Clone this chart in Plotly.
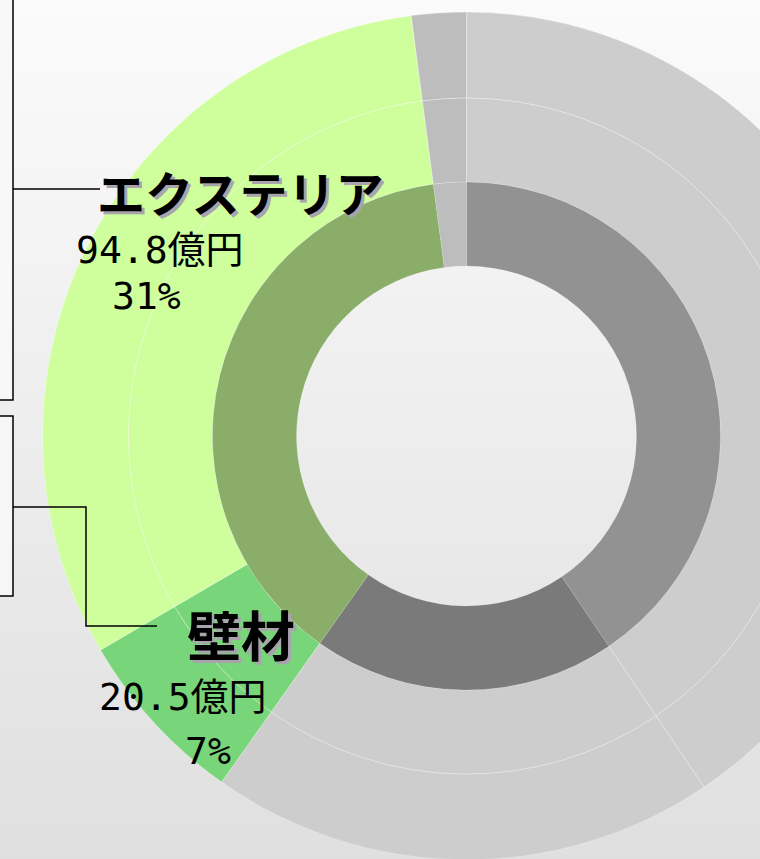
import plotly.graph_objects as go

# ---------------- data ----------------
outer_labels = ["その他A", "その他B", "壁材", "エクステリア", "その他C"]
outer_values = [122.6, 58.3, 20.5, 94.8, 6.3]          # 億円
inner_labels = ["その他A", "その他B", "エクステリア・壁材", "その他C"]
inner_values = [122.6, 58.3, 115.3, 6.3]               # 億円
callout_names = ["エクステリア", "壁材"]
callout_values = [94.8, 20.5]                          # 億円
unit = "億円"

# ---------------- style ----------------
W, H = 900, 870
CX, CY = 466.5, 436.0
R_OUT, R_MID, R_IN, R_HOLE = 424, 338, 254, 170
FONT = "Noto Sans CJK JP"
NUM_FONT = "DejaVu Sans Mono, Noto Sans CJK JP"

outer_colors = ["#cdcdcd", "#cdcdcd", "#79d57a", "#ceff9c", "#bdbdbd"]
inner_colors = ["#929292", "#7a7a7a", "#8aae69", "#bdbdbd"]
faint = dict(color="rgba(255,255,255,0.3)", width=1)
inner_line = dict(color="rgba(255,255,255,0.12)", width=1)


def dom(r):
    return dict(x=[(CX - r) / W, (CX + r) / W],
                y=[(H - CY - r) / H, (H - CY + r) / H])


fig = go.Figure()

# background vertical gradient
fig.add_trace(go.Heatmap(z=[[0, 0], [1, 1]], x=[0, W], y=[H, 0],
                         colorscale=[[0, "#dfdfdf"], [1, "#fbfbfb"]],
                         zsmooth="best", showscale=False, hoverinfo="skip"))

common = dict(sort=False, direction="clockwise", rotation=0, textinfo="none",
              hoverinfo="label+value", showlegend=False)
fig.add_trace(go.Pie(labels=outer_labels, values=outer_values, domain=dom(R_OUT),
                     hole=R_MID / R_OUT, marker=dict(colors=outer_colors, line=faint), **common))
fig.add_trace(go.Pie(labels=outer_labels, values=outer_values, domain=dom(R_MID),
                     hole=R_IN / R_MID, marker=dict(colors=outer_colors, line=faint), **common))
fig.add_trace(go.Pie(labels=inner_labels, values=inner_values, domain=dom(R_IN),
                     hole=R_HOLE / R_IN, marker=dict(colors=inner_colors, line=inner_line), **common))

total = sum(outer_values)
pct = [round(v / total * 100) for v in callout_values]

# callout text
title_pos = [(240, 191, 48), (241, 633, 54)]
value_pos = [(160, 250), (183, 697)]
pct_pos = [(146, 296), (208, 751)]
for i, name in enumerate(callout_names):
    x, y, s = title_pos[i]
    fig.add_annotation(x=x, y=y, text=name, showarrow=False, xref="x", yref="y",
                       font=dict(family=FONT, size=s, color="black", weight="bold",
                                 shadow="3px 3px 0px #a9a3ad"))
    x, y = value_pos[i]
    fig.add_annotation(x=x, y=y, text=f"{callout_values[i]}{unit}", showarrow=False,
                       xref="x", yref="y",
                       font=dict(family=NUM_FONT, size=38, color="black"))
    x, y = pct_pos[i]
    fig.add_annotation(x=x, y=y, text=f"{pct[i]}%", showarrow=False,
                       xref="x", yref="y",
                       font=dict(family=NUM_FONT, size=38, color="black"))

# leader lines / boxes
line = dict(color="black", width=1.5)
fig.add_shape(type="path", path="M -5 -5 L 13 -5 L 13 400 L -5 400 Z",
              fillcolor="#f8f8f8", line=line, xref="x", yref="y", layer="above")
fig.add_shape(type="path", path="M -5 416 L 13 416 L 13 596 L -5 596 Z",
              fillcolor="#f6f6f6", line=line, xref="x", yref="y", layer="above")
fig.add_shape(type="path", path="M 13 189 L 100 189",
              line=line, xref="x", yref="y", layer="above")
fig.add_shape(type="path", path="M 13 507 L 86 507 L 86 626 L 157 626",
              line=line, xref="x", yref="y", layer="above")

fig.update_layout(
    width=W, height=H, margin=dict(l=0, r=0, t=0, b=0),
    paper_bgcolor="#f0f0f0", plot_bgcolor="#f0f0f0",
    xaxis=dict(range=[0, W], visible=False, fixedrange=True),
    yaxis=dict(range=[H, 0], visible=False, fixedrange=True),
)

fig.write_html("out.html",
               post_script="document.body.style.margin='0';document.body.style.overflow='hidden';")
